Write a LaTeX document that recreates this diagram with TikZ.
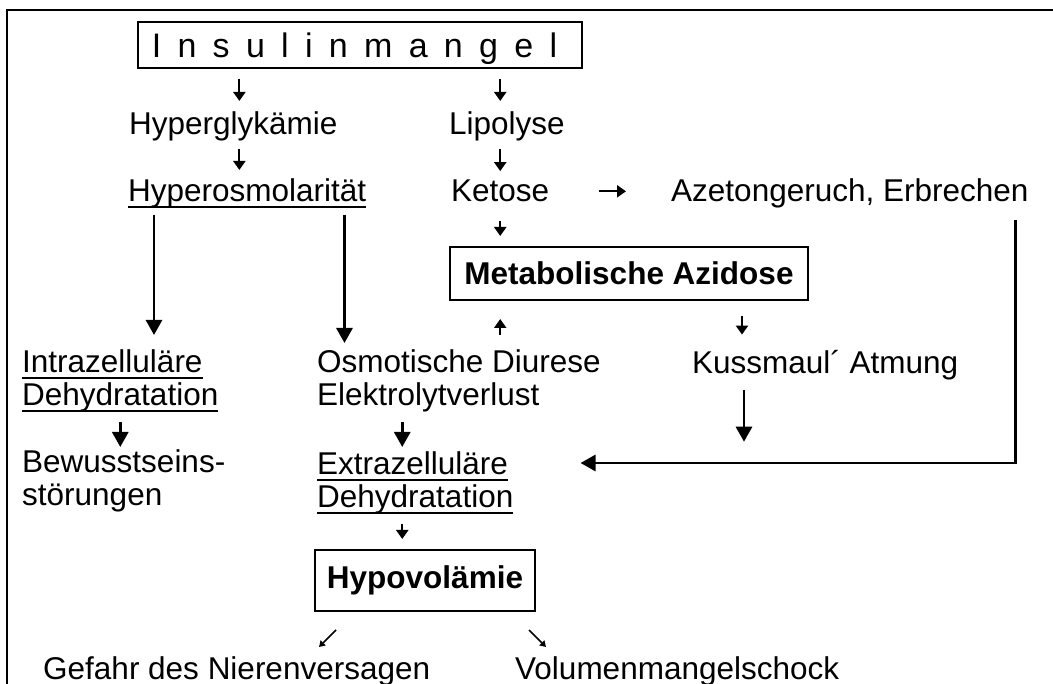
\documentclass[tikz,border=0pt]{standalone}
\usepackage{fontspec}
\setmainfont{Liberation Sans}
\usetikzlibrary{arrows.meta}
% underline at a fixed depth, through the descenders
\newcommand\ulx[1]{\setbox0=\hbox{#1}\rlap{\rule[-6.5pt]{\wd0}{2pt}}\box0}
\begin{document}
\begin{tikzpicture}[x=1pt,y=-1pt,
    txt/.style={inner sep=0pt,font=\fontsize{31.5}{33}\selectfont,align=left},
    box/.style={draw,line width=2pt,inner sep=0pt,font=\fontsize{31.5}{33}\selectfont\bfseries},
    sarr/.style={line width=2.2pt,-{Triangle[length=9pt,width=12pt]}},
    barr/.style={line width=2.8pt,-{Triangle[length=15pt,width=16pt]}},
    tarr/.style={line width=1.6pt,-{Triangle[length=6pt,width=7pt]}}]
  \useasboundingbox (0,0) rectangle (1053,684);
  % the frame, open to the right and to the bottom
  \draw[line width=2pt] (1053,10) -- (7,10) -- (7,684);
  % the boxes
  \node[box,font=\fontsize{34}{36}\selectfont,minimum width=444pt,minimum height=46pt,
        text height=26pt,text depth=0pt] (ins) at (360,45)
        {\spaceskip=16.3pt I n s u l i n m a n g e l\kern11pt};
  \node[box,minimum width=358pt,minimum height=53pt] (met) at (629,273.5) {Metabolische Azidose};
  \node[box,minimum width=220pt,minimum height=61pt] (hypo) at (425,580.5) {Hypovolämie};
  % the texts
  \node[txt,anchor=base west] (hyg) at (129,135) {Hyperglykämie};
  \node[txt,anchor=base west] (lip) at (449,135) {Lipolyse};
  \node[txt,anchor=base west] (hyo) at (128,202) {\ulx{Hyperosmolarität}};
  \node[txt,anchor=base west] (ket) at (451,202) {Ketose};
  \node[txt,anchor=base west] (aze) at (671,202) {Azetongeruch, Erbrechen};
  \node[txt,anchor=north west] (intra) at (22,349) {\ulx{Intrazelluläre}\\\ulx{Dehydratation}};
  \node[txt,anchor=north west] (osm) at (317,349) {Osmotische Diurese\\Elektrolytverlust};
  \node[txt,anchor=base west] (kus) at (692,374) {Kussmaul´ Atmung};
  \node[txt,anchor=north west] (bew) at (22,449) {Bewusstseins-\\störungen};
  \node[txt,anchor=north west] (extra) at (317,451) {\ulx{Extrazelluläre}\\\ulx{Dehydratation}};
  \node[txt,anchor=base west] (gef) at (43,679) {Gefahr des Nierenversagen};
  \node[txt,anchor=base west] (vol) at (515,679) {Volumenmangelschock};
  % Insulinmangel and the two lines below it
  \draw[sarr,shorten <=10pt,shorten >=11pt] ([xshift=6pt]ins.south -| hyg.north) -- ([xshift=6pt]hyg.north);
  \draw[sarr,shorten <=10pt,shorten >=11pt] (ins.south -| ket.north) -- (lip.north -| ket.north);
  \draw[sarr,shorten <=7pt,shorten >=9pt] ([xshift=6pt]hyg.south) -- ([xshift=6pt]hyo.north -| hyg.south);
  \draw[sarr,shorten <=7pt,shorten >=9pt] (lip.south -| ket.north) -- (ket.north);
  % Ketose
  \draw[sarr,shorten <=50pt,shorten >=45pt] (ket.east) -- (ket.east -| aze.west);
  \draw[sarr,shorten <=18pt,shorten >=10pt] (ket.south) -- (met.north -| ket.south);
  % the two long arrows from Hyperosmolaritaet
  \draw[barr,shorten <=6pt,shorten >=14pt] ([xshift=26pt]hyo.south west) -- ([xshift=26pt]hyo.south west |- intra.north);
  \draw[barr,shorten <=6pt,shorten >=6pt] ([xshift=-22pt]hyo.south east) -- ([xshift=-22pt]hyo.south east |- osm.north);
  % round the acidosis box
  \draw[sarr,shorten <=14pt,shorten >=18pt] (osm.north -| ket.south) -- (met.south -| ket.south);
  \draw[sarr,shorten <=15pt,shorten >=16pt] ([xshift=50pt]kus.north west |- met.south) -- ([xshift=50pt]kus.north west);
  \draw[barr,shorten <=9pt] ([xshift=52pt]kus.south west) -- ++(0,61);
  % Azetongeruch back to the extracellular side
  \draw[barr,shorten <=11pt,shorten >=67pt] ([xshift=-13pt]aze.south east) |- ([yshift=-12pt]extra.north east);
  % left and middle column
  \draw[barr,shorten <=10pt,shorten >=2pt] (intra.south) -- (bew.north -| intra.south);
  \draw[barr,shorten <=10pt,shorten >=4pt] ([xshift=-13pt]extra.north |- osm.south) -- ([xshift=-13pt]extra.north);
  \draw[sarr,shorten <=10pt,shorten >=10pt] ([xshift=-13pt]extra.south) -- ([xshift=-13pt]extra.south |- hypo.north);
  % the two outcomes
  \draw[tarr] ([shift={(22,18)}]hypo.south west) -- ++(-17,17);
  \draw[tarr] ([shift={(-7,18)}]hypo.south east) -- ++(17,17);
\end{tikzpicture}
\end{document}
